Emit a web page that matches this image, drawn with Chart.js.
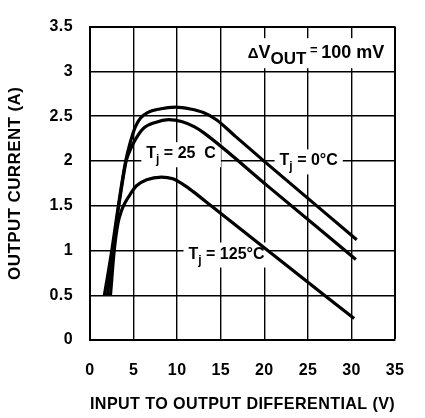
<!DOCTYPE html>
<html><head><meta charset="utf-8">
<script src="https://cdn.jsdelivr.net/npm/chart.js@4/dist/chart.umd.min.js"></script>
<style>html,body{margin:0;padding:0;background:#fff;overflow:hidden}</style>
</head><body>
<canvas id="c" width="425" height="418"></canvas>
<script>
// ---- data ----
const xTickValues = [0, 5, 10, 15, 20, 25, 30, 35];
const yTickValues = [0, 0.5, 1, 1.5, 2, 2.5, 3, 3.5];
const xTitle = 'INPUT TO OUTPUT DIFFERENTIAL (V)';
const yTitle = 'OUTPUT CURRENT (A)';
const seriesNames = ['Tj = 0°C', 'Tj = 25°C', 'Tj = 125°C'];

const tj0X = [1.65, 2.5, 3.1, 3.6, 4.1, 4.6, 5.2, 5.8, 6.6, 8.0, 9.8, 11.5, 13.0, 14.5, 16.5, 20.3, 30.6];
const tj0Y = [0.5, 1.0, 1.4, 1.72, 2.0, 2.2, 2.38, 2.48, 2.54, 2.58, 2.6, 2.58, 2.54, 2.46, 2.29, 1.97, 1.12];

const tj25X = [2.0, 2.62, 3.15, 3.65, 4.15, 4.6, 5.1, 6.1, 7.5, 9.0, 10.5, 12.0, 13.1, 20.5, 30.5];
const tj25Y = [0.5, 1.0, 1.4, 1.72, 2.0, 2.12, 2.22, 2.36, 2.43, 2.46, 2.44, 2.38, 2.31, 1.71, 0.9];

const tj125X = [2.35, 2.78, 3.2, 3.6, 4.0, 4.7, 5.3, 6.5, 8.2, 9.5, 10.8, 11.8, 14.0, 20.5, 30.3];
const tj125Y = [0.5, 1.0, 1.3, 1.44, 1.53, 1.64, 1.72, 1.79, 1.82, 1.8, 1.73, 1.66, 1.49, 0.99, 0.24];

// in-plot text labels: anchor in data units (left of text, baseline)
const labelAnchorsX = [18.1, 6.46, 21.75, 11.3];
const labelAnchorsY = [3.147, 2.03, 1.95, 0.91];
const labelParts = [
  [['\u0394', 15, 0], ['V', 18, 0], ['OUT', 17, 6], [' = ', 13, -4], ['100 mV', 18, 0]],
  [['T', 16, 0], ['j', 12, 5], [' = 25  C', 16, 0]],
  [['T', 16, 0], ['j', 12, 5], [' = 0°C', 16, 0]],
  [['T', 16, 0], ['j', 12, 5], [' = 125°C', 16, 0]]
];

// ---- chart ----
const FONT = '"Liberation Sans", Arial, sans-serif';
const toPts = (xs, ys) => xs.map((x, i) => ({x: x, y: ys[i]}));

const spacingPlugin = {
  id: 'spacing',
  beforeDraw(chart) { chart.ctx.letterSpacing = '0.4px'; }
};

const labelPlugin = {
  id: 'labels',
  beforeDatasetsDraw(chart) {
    const ctx = chart.ctx;
    const xs = chart.scales.x, ys = chart.scales.y;
    ctx.save();
    ctx.letterSpacing = '0px';
    ctx.textBaseline = 'alphabetic';
    ctx.textAlign = 'left';
    labelParts.forEach((parts, k) => {
      const px = xs.getPixelForValue(labelAnchorsX[k]);
      const py = ys.getPixelForValue(labelAnchorsY[k]);
      let w = 0;
      const widths = parts.map(p => {
        ctx.font = 'bold ' + p[1] + 'px ' + FONT;
        const m = ctx.measureText(p[0]).width;
        w += m;
        return m;
      });
      const big = k === 0;
      ctx.fillStyle = '#fff';
      ctx.fillRect(px - 5, py - (big ? 20 : 16), w + 10, big ? 30 : 25);
      ctx.fillStyle = '#000';
      let cx = px;
      parts.forEach((p, i) => {
        ctx.font = 'bold ' + p[1] + 'px ' + FONT;
        ctx.fillText(p[0], cx, py + p[2]);
        cx += widths[i];
      });
    });
    ctx.restore();
  }
};

const ds = (label, xs, ys) => ({
  label: label,
  data: toPts(xs, ys),
  showLine: true,
  borderColor: '#000',
  backgroundColor: '#000',
  borderWidth: 3.2,
  pointRadius: 0,
  cubicInterpolationMode: 'monotone',
  borderCapStyle: 'butt',
  clip: false
});

new Chart(document.getElementById('c'), {
  type: 'scatter',
  data: {
    datasets: [
      ds(seriesNames[0], tj0X, tj0Y),
      ds(seriesNames[1], tj25X, tj25Y),
      ds(seriesNames[2], tj125X, tj125Y)
    ]
  },
  options: {
    responsive: false,
    animation: false,
    events: [],
    layout: {padding: {top: 13, right: 10, left: 0, bottom: 0}},
    plugins: {legend: {display: false}, tooltip: {enabled: false}},
    scales: {
      x: {
        type: 'linear', min: 0, max: 35,
        afterFit: s => { s.height = 78; },
        afterBuildTicks: s => { s.ticks = xTickValues.map(v => ({value: v})); },
        ticks: {color: '#000', padding: 21, font: {family: FONT, size: 16, weight: 'bold'},
          callback: v => String(v)},
        grid: {color: '#000', lineWidth: c => (c.tick && c.tick.value === 35) ? 2 : 1.4, drawTicks: false},
        border: {color: '#000', width: 2},
        title: {display: true, text: xTitle, color: '#000', padding: {top: 0, bottom: 3},
          font: {family: FONT, size: 17, weight: 'bold'}}
      },
      y: {
        type: 'linear', min: 0, max: 3.5,
        afterFit: s => { s.width = 90; },
        afterBuildTicks: s => { s.ticks = yTickValues.map(v => ({value: v})); },
        ticks: {color: '#000', padding: 17, font: {family: FONT, size: 16, weight: 'bold'},
          callback: v => String(v)},
        grid: {color: '#000', lineWidth: c => (c.tick && c.tick.value === 3.5) ? 2 : 1.4, drawTicks: false},
        border: {color: '#000', width: 2},
        title: {display: true, text: yTitle, color: '#000', padding: {top: 5, bottom: 0},
          font: {family: FONT, size: 17, weight: 'bold'}}
      }
    }
  },
  plugins: [spacingPlugin, labelPlugin]
});
</script>
</body></html>
